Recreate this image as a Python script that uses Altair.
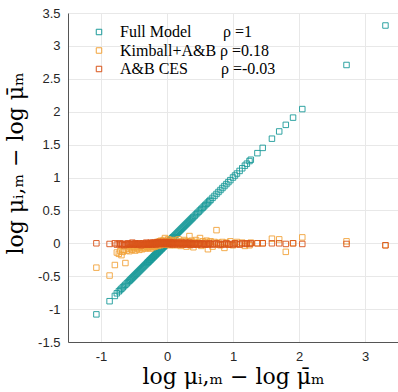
import altair as alt
import pandas as pd

series_names = ["Full Model", "Kimball+A&B", "A&B CES"]
series_colors = ["#1a9a99", "#f2a33a", "#d9541a"]
rho_labels = ["ρ =1", "ρ =0.18", "ρ =-0.03"]

full_x = [
    -1.07, -0.87, -0.79, -0.76, -0.73, -0.71, -0.69, -0.67, -0.65, -0.63,
    -0.61, -0.59, -0.57, -0.555, -0.54, -0.525, -0.51, -0.495, -0.48, -0.465,
    -0.45, -0.435, -0.42, -0.405, -0.39, -0.375, -0.36, -0.345, -0.33, -0.315,
    -0.30, -0.29, -0.28, -0.27, -0.26, -0.25, -0.24, -0.23, -0.22, -0.21,
    -0.20, -0.19, -0.18, -0.17, -0.16, -0.15, -0.14, -0.13, -0.12, -0.11,
    -0.10, -0.09, -0.08, -0.07, -0.06, -0.05, -0.04, -0.03, -0.02, -0.01,
    0.00, 0.01, 0.02, 0.03, 0.04, 0.05, 0.06, 0.07, 0.08, 0.09,
    0.10, 0.115, 0.13, 0.145, 0.16, 0.175, 0.19, 0.205, 0.22, 0.235,
    0.25, 0.265, 0.28, 0.295, 0.31, 0.325, 0.34, 0.355, 0.37, 0.385,
    0.40, 0.42, 0.44, 0.46, 0.48, 0.50, 0.52, 0.54, 0.56, 0.58,
    0.60, 0.62, 0.64, 0.66, 0.69, 0.72, 0.75, 0.78, 0.81, 0.84,
    0.87, 0.90, 0.93, 0.96, 1.00, 1.03, 1.06, 1.10, 1.14, 1.18,
    1.21, 1.25, 1.27, 1.37, 1.45, 1.59, 1.70, 1.80, 1.91, 2.05,
    2.72, 3.31,
]

full_y = [
    -1.08, -0.88, -0.80, -0.76, -0.73, -0.71, -0.69, -0.67, -0.65, -0.63,
    -0.61, -0.59, -0.57, -0.555, -0.54, -0.525, -0.51, -0.495, -0.48, -0.465,
    -0.45, -0.435, -0.42, -0.405, -0.39, -0.375, -0.36, -0.345, -0.33, -0.315,
    -0.30, -0.29, -0.28, -0.27, -0.26, -0.25, -0.24, -0.23, -0.22, -0.21,
    -0.20, -0.19, -0.18, -0.17, -0.16, -0.15, -0.14, -0.13, -0.12, -0.11,
    -0.10, -0.09, -0.08, -0.07, -0.06, -0.05, -0.04, -0.03, -0.02, -0.01,
    0.00, 0.01, 0.02, 0.03, 0.04, 0.05, 0.06, 0.07, 0.08, 0.09,
    0.10, 0.115, 0.13, 0.145, 0.16, 0.175, 0.19, 0.205, 0.22, 0.235,
    0.25, 0.265, 0.28, 0.295, 0.31, 0.325, 0.34, 0.355, 0.37, 0.385,
    0.40, 0.42, 0.44, 0.46, 0.48, 0.50, 0.52, 0.54, 0.56, 0.58,
    0.60, 0.62, 0.64, 0.66, 0.69, 0.72, 0.75, 0.78, 0.81, 0.84,
    0.87, 0.90, 0.93, 0.96, 1.00, 1.03, 1.06, 1.10, 1.14, 1.18,
    1.21, 1.25, 1.27, 1.37, 1.45, 1.59, 1.70, 1.80, 1.91, 2.04,
    2.71, 3.31,
]

kimball_y = [
    -0.37, -0.49, -0.33, -0.14, -0.16, -0.12, -0.18, -0.13, -0.10, -0.30,
    -0.11, -0.08, -0.12, -0.06, -0.09, -0.10, -0.05, -0.07, -0.11, -0.04,
    -0.08, -0.06, -0.10, -0.05, -0.07, -0.09, -0.04, -0.06, -0.08, -0.03,
    -0.05, -0.07, -0.03, -0.06, -0.04, -0.08, -0.02, -0.05, -0.03, -0.06,
    -0.04, -0.02, -0.05, -0.01, -0.03, 0.02, -0.04, 0.01, -0.02, 0.03,
    -0.03, 0.04, -0.01, 0.02, -0.02, 0.05, 0.00, 0.08, -0.01, 0.03,
    0.02, -0.02, 0.06, 0.01, -0.03, 0.04, 0.00, 0.03, -0.02, 0.05,
    0.01, -0.03, 0.04, 0.02, -0.01, 0.06, 0.00, -0.04, 0.03, 0.01,
    -0.02, 0.05, 0.02, -0.05, 0.03, 0.00, 0.11, -0.03, 0.04, 0.01,
    -0.06, 0.02, 0.05, -0.02, 0.01, 0.08, -0.04, 0.03, -0.01, 0.02,
    0.04, -0.09, 0.01, 0.03, -0.05, 0.02, 0.20, 0.01, -0.03, 0.02,
    -0.07, 0.01, -0.02, 0.03, -0.03, 0.00, 0.02, -0.01, 0.01, -0.04,
    0.00, -0.03, 0.01, 0.00, 0.00, 0.07, 0.06, -0.13, 0.00, 0.09,
    0.03, -0.03,
]

ces_y = [
    0.00, -0.01, 0.00, -0.02, -0.01, 0.00, -0.02, -0.01, -0.03, -0.01,
    -0.02, 0.00, -0.01, -0.02, -0.01, 0.01, -0.02, -0.01, 0.00, -0.02,
    -0.01, -0.02, 0.00, -0.01, -0.03, -0.01, 0.00, -0.02, -0.01, 0.01,
    -0.02, -0.01, 0.00, -0.02, -0.01, 0.01, -0.01, 0.00, -0.02, 0.01,
    -0.01, 0.00, 0.01, -0.02, 0.00, 0.01, -0.01, 0.02, 0.00, -0.01,
    0.01, 0.00, -0.01, 0.02, 0.00, -0.01, 0.01, 0.00, 0.02, -0.01,
    0.00, 0.01, -0.01, 0.00, 0.02, -0.01, 0.01, 0.00, -0.02, 0.01,
    0.00, -0.01, 0.01, 0.00, -0.02, 0.01, -0.01, 0.00, 0.01, -0.02,
    0.00, -0.01, 0.01, -0.02, 0.00, -0.01, 0.01, -0.02, 0.00, -0.01,
    -0.02, 0.00, -0.01, -0.02, 0.00, -0.01, -0.02, 0.00, -0.01, -0.02,
    -0.01, -0.02, 0.00, -0.01, -0.02, -0.01, 0.00, -0.02, -0.01, -0.02,
    -0.01, 0.00, -0.02, -0.01, -0.02, 0.00, -0.01, -0.02, 0.00, -0.01,
    0.00, -0.01, 0.00, 0.00, 0.00, 0.00, 0.00, -0.01, 0.00, -0.01,
    -0.01, -0.03,
]

y_lists = [full_y, kimball_y, ces_y]
rows = []
for order, (name, ys) in enumerate(zip(series_names, y_lists)):
    for xv, yv in zip(full_x, ys, strict=True):
        rows.append({"x": xv, "y": yv, "series": name, "order": order})
df = pd.DataFrame(rows)

serif = "Liberation Serif"
title_font = "DejaVu Serif"
sans = "Liberation Sans"
axis_title = "log μᵢ,ₘ − log μ̄ₘ"

points = alt.Chart(df).mark_point(shape="square", filled=False, size=30, strokeWidth=0.9, opacity=1).encode(
    x=alt.X("x:Q", scale=alt.Scale(domain=[-1.5, 3.5], nice=False),
            axis=alt.Axis(values=[-1, 0, 1, 2, 3], title=axis_title,
                          labelExpr="'' + datum.value", titlePadding=3)),
    y=alt.Y("y:Q", scale=alt.Scale(domain=[-1.5, 3.5], nice=False),
            axis=alt.Axis(values=[-1.5, -1, -0.5, 0, 0.5, 1, 1.5, 2, 2.5, 3, 3.5],
                          title=axis_title, labelExpr="'' + datum.value",
                          titlePadding=10, titleY=150)),
    color=alt.Color("series:N", scale=alt.Scale(domain=series_names, range=series_colors),
                    legend=alt.Legend(title=None, orient="none", legendX=23, legendY=11,
                                      symbolType="square", symbolSize=30, symbolStrokeWidth=1,
                                      labelFont=serif, labelFontSize=16, labelColor="black",
                                      labelOffset=13, rowPadding=2.5, padding=0)),
    order=alt.Order("order:Q"),
)

layers = [points]
rho_y = [19, 37.5, 56]
rho_x = [155, 152, 153]
for lab, yy, xx in zip(rho_labels, rho_y, rho_x):
    layers.append(
        alt.Chart(alt.Data(values=[{"t": lab}])).mark_text(
            align="left", baseline="middle", font=serif, fontSize=16, color="black"
        ).encode(x=alt.value(xx), y=alt.value(yy), text="t:N")
    )

chart = alt.layer(*layers).properties(
    width=330, height=329,
    autosize=alt.AutoSizeParams(type="none"),
    padding={"left": 68, "top": 13, "right": 0, "bottom": 50},
).configure_view(stroke=None).configure_axis(
    labelFont=sans, labelFontSize=13, labelColor="#262626",
    titleFont=title_font, titleFontSize=22, titleFontWeight="normal", titleColor="black",
    grid=True, gridColor="#e8e8e8", gridWidth=1,
    domainColor="#555555", domainWidth=1, tickSize=0, labelPadding=8,
)

chart.save("out.html", embed_options={"renderer": "svg", "actions": False})
